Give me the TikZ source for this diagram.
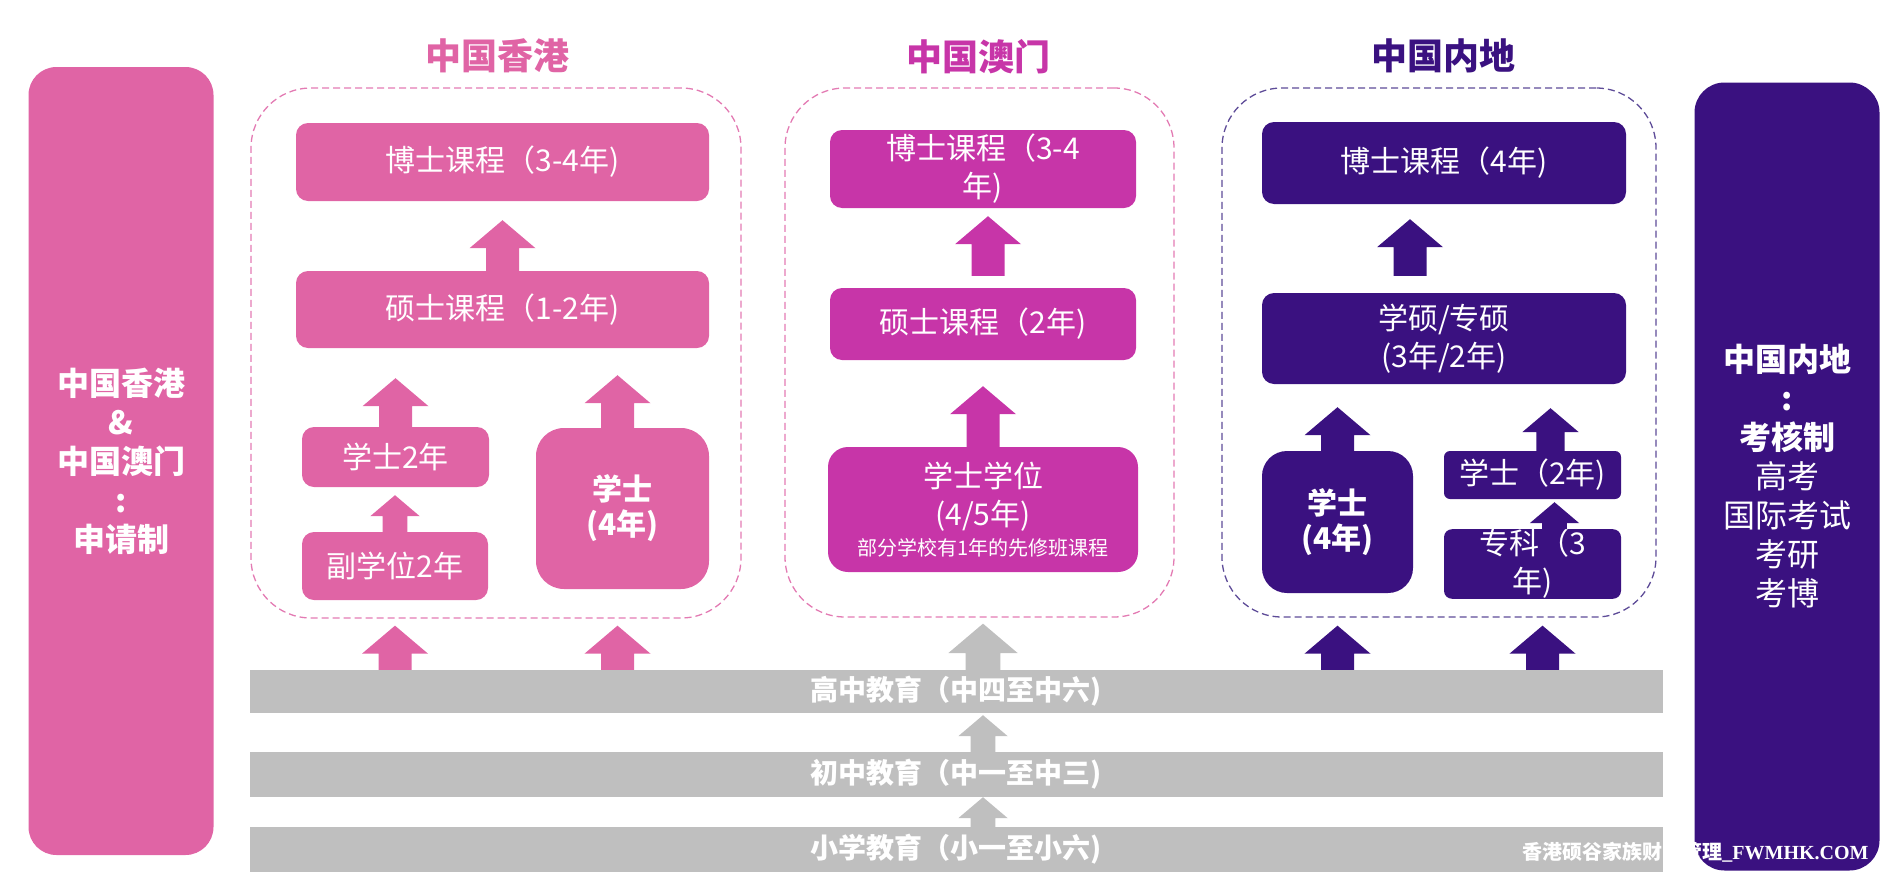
\documentclass[tikz,border=0pt]{standalone}
\usepackage{fontspec}
\setmainfont{Noto Sans CJK SC}
\newfontfamily\wmserif{Liberation Serif}
\usetikzlibrary{calc}
\definecolor{hkpink}{HTML}{E064A5}
\definecolor{mopink}{HTML}{C735A8}
\definecolor{mlpurple}{HTML}{3A1180}
\definecolor{bargray}{HTML}{BFBFBF}
\definecolor{hkdash}{HTML}{E37BB3}
\definecolor{mldash}{HTML}{5E4C98}
\newcommand{\blockup}[4][1]{%
  \fill[#4] let \p1=(#2), \p2=(#3) in
    (\x1-#1*16.5pt,\y1) -- (\x1-#1*16.5pt,\y2-#1*28pt) -- (\x1-#1*33pt,\y2-#1*28pt)
    -- (\x1,\y2) -- (\x1+#1*33pt,\y2-#1*28pt) -- (\x1+#1*16.5pt,\y2-#1*28pt)
    -- (\x1+#1*16.5pt,\y1) -- cycle;}
\begin{document}
\begin{tikzpicture}[x=1pt,y=-1pt,
                cbox/.style={rounded corners=12pt, inner sep=0pt, text=white, align=center,
                        font=\fontsize{30pt}{38pt}\selectfont},
                hkbox/.style={cbox, fill=hkpink},
                mobox/.style={cbox, fill=mopink},
                mlbox/.style={cbox, fill=mlpurple},
                boldtext/.style={font=\fontsize{30pt}{35pt}\selectfont\bfseries},
                dashframe/.style={draw=#1, line width=1.3pt, dash pattern=on 7pt off 4pt,
                        rounded corners=60pt, inner sep=0pt},
                heading/.style={text=#1, font=\fontsize{36pt}{40pt}\selectfont\bfseries},
                levelbar/.style={fill=bargray, minimum width=1413pt, minimum height=45pt,
                        inner sep=0pt, text=white, font=\fontsize{28pt}{32pt}\selectfont\bfseries},
                sidebox/.style={fill=#1, rounded corners=28pt, inner sep=0pt, text=white,
                        align=center, minimum width=185pt, minimum height=788pt,
                        font=\fontsize{32pt}{39pt}\selectfont}]
                \useasboundingbox (0,0) rectangle (1896,889);
                \node[heading=hkpink] (hktitle) at (497,56) {中国香港};
                \node[dashframe=hkdash, minimum width=490pt, minimum height=530pt] (hkframe) at (496,353) {};
                \node[hkbox, minimum width=413pt, minimum height=78pt] (hkphd) at (502.5,162) {博士课程（3-4年)};
                \node[hkbox, minimum width=413pt, minimum height=77pt] (hkmaster) at (502.5,309.5) {硕士课程（1-2年)};
                \node[hkbox, minimum width=187pt, minimum height=60pt] (hkbach2) at (395.5,457) {学士2年};
                \node[hkbox, minimum width=186pt, minimum height=68pt] (hkassoc) at (395,566) {副学位2年};
                \node[hkbox, boldtext, rounded corners=28pt, minimum width=173pt, minimum height=161pt] (hkbach4) at (622.5,508.5) {学士\\(4年)};

                \node[heading=mopink] (motitle) at (978,57) {中国澳门};
                \node[dashframe=hkdash, minimum width=389pt, minimum height=529pt] (moframe) at (979.5,352.5) {};
                \node[mobox, minimum width=306pt, minimum height=78pt] (mophd) at (983,169) {博士课程（3-4\\年)};
                \node[mobox, minimum width=306pt, minimum height=72pt] (momaster) at (983,324) {硕士课程（2年)};
                \node[mobox, rounded corners=20pt, minimum width=310pt, minimum height=125pt] (mobach) at (983,509.5)
                        {学士学位\\(4/5年)\\[-8pt]{\fontsize{20pt}{24pt}\selectfont 部分学校有1年的先修班课程}};

                \node[heading=mlpurple] (mltitle) at (1443,56) {中国内地};
                \node[dashframe=mldash, minimum width=434pt, minimum height=529pt] (mlframe) at (1439,352.5) {};
                \node[mlbox, minimum width=364pt, minimum height=82pt] (mlphd) at (1444,163) {博士课程（4年)};
                \node[mlbox, minimum width=364pt, minimum height=91pt] (mlmaster) at (1444,338.5) {学硕/专硕\\(3年/2年)};
                \node[mlbox, boldtext, rounded corners=25pt, minimum width=151pt, minimum height=142pt] (mlbach4) at (1337.5,522) {学士\\(4年)};
                \node[mlbox, rounded corners=6pt, minimum width=177pt, minimum height=48pt] (mlbach2) at (1532.5,475) {学士（2年)};
                \node[mlbox, rounded corners=8pt, minimum width=177pt, minimum height=58pt] (mlcollege) at (1532.5,564) {专科（3\\年)};

                \node[sidebox=hkpink] (hkmoside) at (121,461)
                        {\bfseries 中国香港\\\bfseries \&\\\bfseries 中国澳门\\\bfseries :\\\bfseries 申请制};
                \node[sidebox=mlpurple, rounded corners=30pt] (mlside) at (1787,476.5)
                        {\bfseries 中国内地\\\bfseries :\\\bfseries 考核制\\高考\\国际考试\\考研\\考博};

                \node[levelbar, minimum height=43pt] (senior) at (956.5,691.5) {高中教育（中四至中六)};
                \node[levelbar] (junior) at (956.5,774.5) {初中教育（中一至中三)};
                \node[levelbar] (primary) at (956.5,849.5) {小学教育（小一至小六)};
                \node[text=white, inner sep=0pt, font=\fontsize{20pt}{24pt}\selectfont\bfseries] (mark) at (1695.5,852)
                        {香港硕谷家族财富管理{\wmserif\_FWMHK.COM}};

                \blockup{hkmaster.north}{$(hkphd.south)+(0,19)$}{hkpink}
                \blockup{hkbach2.north}{$(hkmaster.south)+(0,30)$}{hkpink}
                \blockup{$(hkbach4.north)+(-5,0)$}{$(hkmaster.south)+(0,27)$}{hkpink}
                \blockup[0.75]{hkassoc.north}{$(hkbach2.south)+(0,8)$}{hkpink}
                \blockup{senior.north -| hkassoc}{$(hkframe.south)+(0,7)$}{hkpink}
                \blockup{$(senior.north -| hkbach4)+(-5,0)$}{$(hkframe.south)+(0,7)$}{hkpink}

                \blockup{$(momaster.north)+(5,-12)$}{$(mophd.south)+(0,8)$}{mopink}
                \blockup{mobach.north}{$(momaster.south)+(0,26)$}{mopink}
                \blockup[1.05]{senior.north -| mobach}{$(moframe.south)+(0,6)$}{bargray}
                \blockup[0.75]{junior.north -| mobach}{$(senior.south)+(0,2)$}{bargray}
                \blockup[0.75]{primary.north -| mobach}{junior.south}{bargray}

                \blockup{$(mlmaster.north)+(-34,-17)$}{$(mlphd.south)+(0,15)$}{mlpurple}
                \blockup{mlbach4.north}{$(mlmaster.south)+(0,23)$}{mlpurple}
                \blockup[0.85]{$(mlbach2.north)+(18,0)$}{$(mlmaster.south)+(0,24)$}{mlpurple}
                \blockup[0.75]{$(mlcollege.north)+(22,0)$}{$(mlbach2.south)+(0,3)$}{mlpurple}
                \blockup{senior.north -| mlbach4}{$(mlframe.south)+(0,8)$}{mlpurple}
                \blockup{$(senior.north -| mlcollege)+(10,0)$}{$(mlframe.south)+(0,8)$}{mlpurple}
\end{tikzpicture}
\end{document}
